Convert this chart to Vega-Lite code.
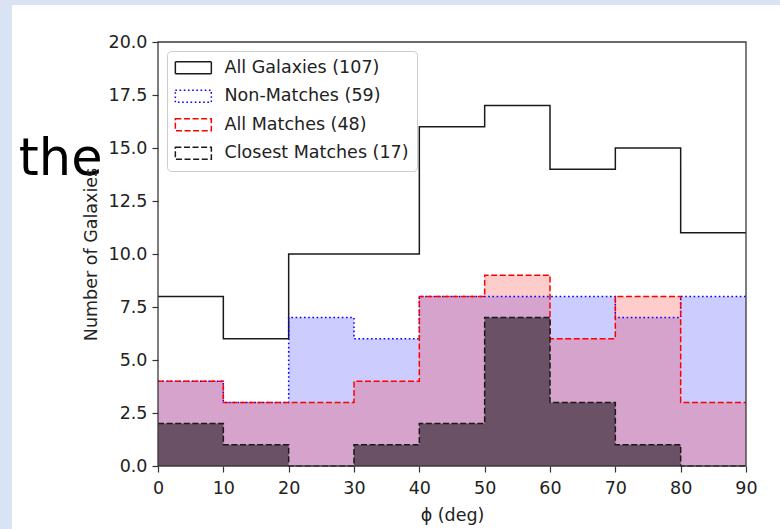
{
  "$schema": "https://vega.github.io/schema/vega-lite/v6.json",
  "width": 588,
  "height": 424,
  "autosize": {"type": "none"},
  "padding": {"left": 158, "top": 42, "right": 34, "bottom": 63},
  "background": "#dae3f3",
  "config": {
    "view": {"stroke": null},
    "font": "DejaVu Sans",
    "axis": {
      "domain": false,
      "grid": false,
      "labelFont": "DejaVu Sans",
      "labelFontSize": 17.5,
      "labelColor": "#222222",
      "labelFlush": false,
      "labelOverlap": false,
      "tickColor": "#333333",
      "tickWidth": 1.2,
      "tickSize": 6,
      "titleFont": "DejaVu Sans",
      "titleFontSize": 17.5,
      "titleFontWeight": "normal",
      "titleColor": "#222222"
    },
    "legend": {
      "orient": "top-left",
      "offset": 9,
      "padding": 8,
      "fillColor": "rgba(255,255,255,0.8)",
      "strokeColor": "#cccccc",
      "cornerRadius": 4,
      "symbolType": "M-1.4,-1H4.6V1H-1.4Z",
      "symbolSize": 144,
      "symbolStrokeWidth": 1.5,
      "symbolFillColor": "transparent",
      "labelFont": "DejaVu Sans",
      "labelFontSize": 17.5,
      "labelColor": "#222222",
      "labelOffset": 32,
      "labelLimit": 400,
      "rowPadding": 9.5
    }
  },
  "datasets": {
    "hist": [
      {"series": "All Galaxies (107)", "start": 0, "end": 10, "count": 8},
      {"series": "All Galaxies (107)", "start": 10, "end": 20, "count": 6},
      {"series": "All Galaxies (107)", "start": 20, "end": 30, "count": 10},
      {"series": "All Galaxies (107)", "start": 30, "end": 40, "count": 10},
      {"series": "All Galaxies (107)", "start": 40, "end": 50, "count": 16},
      {"series": "All Galaxies (107)", "start": 50, "end": 60, "count": 17},
      {"series": "All Galaxies (107)", "start": 60, "end": 70, "count": 14},
      {"series": "All Galaxies (107)", "start": 70, "end": 80, "count": 15},
      {"series": "All Galaxies (107)", "start": 80, "end": 90, "count": 11},
      {"series": "Non-Matches (59)", "start": 0, "end": 10, "count": 4},
      {"series": "Non-Matches (59)", "start": 10, "end": 20, "count": 3},
      {"series": "Non-Matches (59)", "start": 20, "end": 30, "count": 7},
      {"series": "Non-Matches (59)", "start": 30, "end": 40, "count": 6},
      {"series": "Non-Matches (59)", "start": 40, "end": 50, "count": 8},
      {"series": "Non-Matches (59)", "start": 50, "end": 60, "count": 8},
      {"series": "Non-Matches (59)", "start": 60, "end": 70, "count": 8},
      {"series": "Non-Matches (59)", "start": 70, "end": 80, "count": 7},
      {"series": "Non-Matches (59)", "start": 80, "end": 90, "count": 8},
      {"series": "All Matches (48)", "start": 0, "end": 10, "count": 4},
      {"series": "All Matches (48)", "start": 10, "end": 20, "count": 3},
      {"series": "All Matches (48)", "start": 20, "end": 30, "count": 3},
      {"series": "All Matches (48)", "start": 30, "end": 40, "count": 4},
      {"series": "All Matches (48)", "start": 40, "end": 50, "count": 8},
      {"series": "All Matches (48)", "start": 50, "end": 60, "count": 9},
      {"series": "All Matches (48)", "start": 60, "end": 70, "count": 6},
      {"series": "All Matches (48)", "start": 70, "end": 80, "count": 8},
      {"series": "All Matches (48)", "start": 80, "end": 90, "count": 3},
      {"series": "Closest Matches (17)", "start": 0, "end": 10, "count": 2},
      {"series": "Closest Matches (17)", "start": 10, "end": 20, "count": 1},
      {"series": "Closest Matches (17)", "start": 20, "end": 30, "count": 0},
      {"series": "Closest Matches (17)", "start": 30, "end": 40, "count": 1},
      {"series": "Closest Matches (17)", "start": 40, "end": 50, "count": 2},
      {"series": "Closest Matches (17)", "start": 50, "end": 60, "count": 7},
      {"series": "Closest Matches (17)", "start": 60, "end": 70, "count": 3},
      {"series": "Closest Matches (17)", "start": 70, "end": 80, "count": 1},
      {"series": "Closest Matches (17)", "start": 80, "end": 90, "count": 0}
    ]
  },
  "layer": [
    {
      "data": {"values": [{"page": "sheet"}]},
      "mark": {"type": "rect", "fill": "white", "strokeWidth": 0},
      "encoding": {
        "x": {"datum": -22.35, "type": "quantitative",
          "scale": {"domain": [0, 90], "nice": false, "zero": false},
          "axis": {"zindex": 1, "values": [0, 10, 20, 30, 40, 50, 60, 70, 80, 90], "format": "d", "title": "ϕ (deg)", "labelPadding": 7, "titlePadding": 10}},
        "x2": {"datum": 100},
        "y": {"datum": 21.75, "type": "quantitative",
          "scale": {"domain": [0, 20], "nice": false, "zero": false},
          "axis": {"zindex": 1, "values": [0, 2.5, 5, 7.5, 10, 12.5, 15, 17.5, 20], "format": ".1f", "title": "Number of Galaxies", "labelPadding": 5, "titlePadding": 8}},
        "y2": {"datum": -6}
      }
    },
    {
      "data": {"name": "hist"},
      "transform": [
        {"filter": "datum.series === 'Non-Matches (59)'"},
        {"fold": ["start", "end"], "as": ["edge", "phi"]}
      ],
      "mark": {"type": "area", "fill": "#0000ff", "fillOpacity": 0.2, "strokeWidth": 0},
      "encoding": {
        "x": {"field": "phi", "type": "quantitative"},
        "y": {"field": "count", "type": "quantitative", "stack": null}
      }
    },
    {
      "data": {"name": "hist"},
      "transform": [
        {"filter": "datum.series === 'All Matches (48)'"},
        {"fold": ["start", "end"], "as": ["edge", "phi"]}
      ],
      "mark": {"type": "area", "fill": "#ff0000", "fillOpacity": 0.2, "strokeWidth": 0},
      "encoding": {
        "x": {"field": "phi", "type": "quantitative"},
        "y": {"field": "count", "type": "quantitative", "stack": null}
      }
    },
    {
      "data": {"name": "hist"},
      "transform": [
        {"filter": "datum.series === 'Closest Matches (17)'"},
        {"fold": ["start", "end"], "as": ["edge", "phi"]}
      ],
      "mark": {"type": "area", "fill": "#000000", "fillOpacity": 0.5, "strokeWidth": 0},
      "encoding": {
        "x": {"field": "phi", "type": "quantitative"},
        "y": {"field": "count", "type": "quantitative", "stack": null}
      }
    },
    {
      "data": {"name": "hist"},
      "transform": [
        {"filter": "datum.series === 'All Galaxies (107)'"},
        {"fold": ["start", "end"], "as": ["edge", "phi"]}
      ],
      "mark": {"type": "line", "strokeWidth": 1.5},
      "encoding": {
        "x": {"field": "phi", "type": "quantitative"},
        "y": {"field": "count", "type": "quantitative"},
        "order": [{"field": "phi"}, {"field": "edge"}],
        "stroke": {"field": "series", "type": "nominal", "legend": {"title": null},
          "scale": {"domain": ["All Galaxies (107)", "Non-Matches (59)", "All Matches (48)", "Closest Matches (17)"], "range": ["#1a1a1a", "#0000ff", "#ff0000", "#1a1a1a"]}},
        "strokeDash": {"field": "series", "type": "nominal", "legend": {"title": null},
          "scale": {"domain": ["All Galaxies (107)", "Non-Matches (59)", "All Matches (48)", "Closest Matches (17)"], "range": [[1, 0], [1.6, 2.6], [6, 2.6], [6, 2.6]]}}
      }
    },
    {
      "data": {"name": "hist"},
      "transform": [
        {"filter": "datum.series === 'Non-Matches (59)'"},
        {"fold": ["start", "end"], "as": ["edge", "phi"]}
      ],
      "mark": {"type": "line", "strokeWidth": 1.5},
      "encoding": {
        "x": {"field": "phi", "type": "quantitative"},
        "y": {"field": "count", "type": "quantitative"},
        "order": [{"field": "phi"}, {"field": "edge"}],
        "stroke": {"field": "series", "type": "nominal", "legend": {"title": null}},
        "strokeDash": {"field": "series", "type": "nominal", "legend": {"title": null}}
      }
    },
    {
      "data": {"name": "hist"},
      "transform": [
        {"filter": "datum.series === 'All Matches (48)'"},
        {"fold": ["start", "end"], "as": ["edge", "phi"]}
      ],
      "mark": {"type": "line", "strokeWidth": 1.5},
      "encoding": {
        "x": {"field": "phi", "type": "quantitative"},
        "y": {"field": "count", "type": "quantitative"},
        "order": [{"field": "phi"}, {"field": "edge"}],
        "stroke": {"field": "series", "type": "nominal", "legend": {"title": null}},
        "strokeDash": {"field": "series", "type": "nominal", "legend": {"title": null}}
      }
    },
    {
      "data": {"name": "hist"},
      "transform": [
        {"filter": "datum.series === 'Closest Matches (17)'"},
        {"fold": ["start", "end"], "as": ["edge", "phi"]}
      ],
      "mark": {"type": "line", "strokeWidth": 1.5},
      "encoding": {
        "x": {"field": "phi", "type": "quantitative"},
        "y": {"field": "count", "type": "quantitative"},
        "order": [{"field": "phi"}, {"field": "edge"}],
        "stroke": {"field": "series", "type": "nominal", "legend": {"title": null}},
        "strokeDash": {"field": "series", "type": "nominal", "legend": {"title": null}}
      }
    },
    {
      "data": {"values": [{"frame": "axes"}]},
      "mark": {"type": "rect", "fill": "transparent", "stroke": "#3a3a3a", "strokeWidth": 1.3},
      "encoding": {
        "x": {"datum": 0, "type": "quantitative"},
        "x2": {"datum": 90},
        "y": {"datum": 0, "type": "quantitative"},
        "y2": {"datum": 20}
      }
    },
    {
      "data": {"values": [{"word": "the"}]},
      "mark": {"type": "text", "font": "DejaVu Sans", "fontSize": 51, "color": "#000000", "align": "center", "baseline": "alphabetic"},
      "encoding": {
        "text": {"field": "word"},
        "x": {"datum": -14.9, "type": "quantitative"},
        "y": {"datum": 13.75, "type": "quantitative"}
      }
    }
  ]
}
